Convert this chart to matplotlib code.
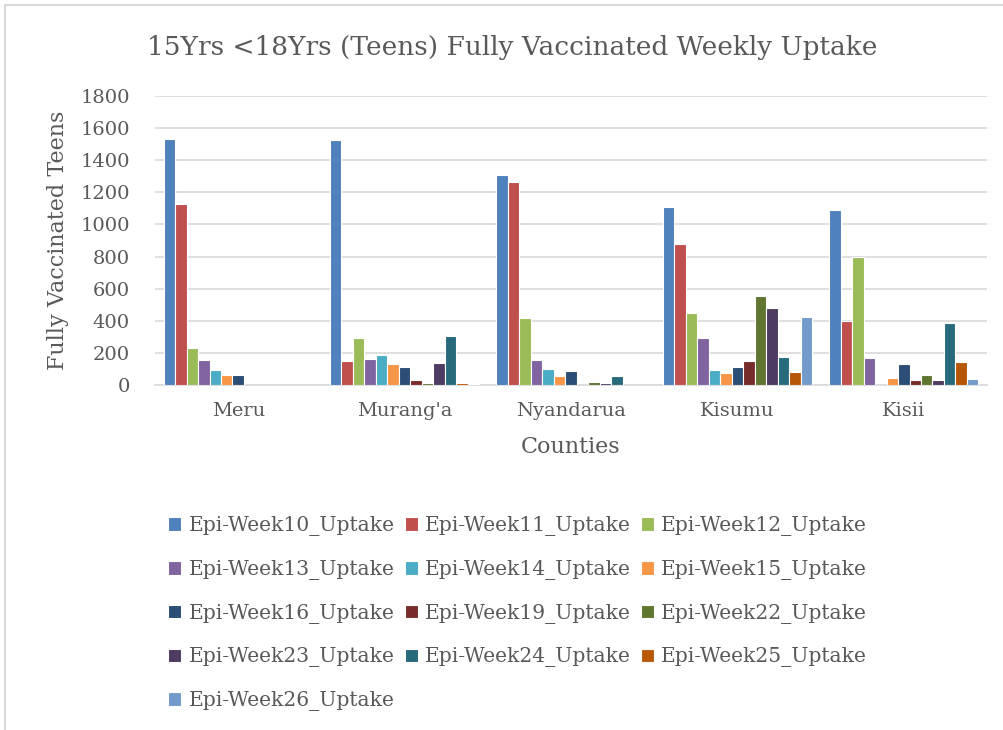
import matplotlib
matplotlib.use("Agg")
import matplotlib.pyplot as plt
import numpy as np
from matplotlib.lines import Line2D

counties = ["Meru", "Murang'a", "Nyandarua", "Kisumu", "Kisii"]
series_names = ["Epi-Week10_Uptake", "Epi-Week11_Uptake", "Epi-Week12_Uptake",
                "Epi-Week13_Uptake", "Epi-Week14_Uptake", "Epi-Week15_Uptake",
                "Epi-Week16_Uptake", "Epi-Week19_Uptake", "Epi-Week22_Uptake",
                "Epi-Week23_Uptake", "Epi-Week24_Uptake", "Epi-Week25_Uptake",
                "Epi-Week26_Uptake"]
week10 = [1534, 1523, 1311, 1106, 1091]
week11 = [1128, 150, 1266, 881, 399]
week12 = [229, 291, 416, 447, 798]
week13 = [154, 164, 154, 291, 166]
week14 = [92, 189, 102, 91, 0]
week15 = [62, 133, 54, 73, 44]
week16 = [65, 110, 89, 114, 131]
week19 = [3, 29, 3, 148, 31]
week22 = [0, 10, 17, 553, 60]
week23 = [0, 135, 10, 480, 29]
week24 = [0, 308, 56, 173, 385]
week25 = [0, 10, 0, 81, 141]
week26 = [3, 8, 0, 426, 37]
series_values = [week10, week11, week12, week13, week14, week15, week16,
                 week19, week22, week23, week24, week25, week26]
yticks = [0, 200, 400, 600, 800, 1000, 1200, 1400, 1600, 1800]

colors = ["#4F81BD", "#C0504D", "#9BBB59", "#8064A2", "#4BACC6", "#F79646",
          "#2C4D75", "#772C2A", "#5F7530", "#4D3B62", "#276A7C", "#B65708",
          "#729ACA"]

text_color = "#595959"
serif = ["DejaVu Serif"]

fig = plt.figure(figsize=(10.04, 7.30), dpi=100)
ax = fig.add_axes([155/1004, 1-385/730, 832/1004, 289/730])

n = len(series_values)
w = 1/14.5
x = np.arange(len(counties))
handles = []
for i, (name, vals) in enumerate(zip(series_names, series_values)):
    b = ax.bar(x + (i - (n-1)/2)*w, vals, width=w, color=colors[i],
               edgecolor="white", linewidth=0.8, label=name, zorder=3)
    handles.append(b)

ax.set_xlim(-0.5, len(counties)-0.5)
ax.set_ylim(0, 1800)
ax.set_yticks(yticks)
ax.set_yticklabels([str(t) for t in yticks], fontfamily=serif, fontsize=14, color=text_color)
ax.set_xticks(x)
ax.set_xticklabels(counties, fontfamily=serif, fontsize=14, color=text_color)
ax.tick_params(axis="y", length=0, pad=18)
ax.tick_params(axis="x", length=0, pad=12)
ax.grid(axis="y", color="#D9D9D9", linewidth=1.2, zorder=0)
for s in ["top", "right", "left"]:
    ax.spines[s].set_visible(False)
ax.spines["bottom"].set_color("#D9D9D9")
ax.spines["bottom"].set_linewidth(1.2)

ax.set_ylabel("Fully Vaccinated Teens", fontfamily=serif, fontsize=16, color=text_color, labelpad=8)
ax.set_xlabel("Counties", fontfamily=serif, fontsize=16, color=text_color, labelpad=12)

fig.text(512/1004, 1-47/730, "15Yrs <18Yrs (Teens) Fully Vaccinated Weekly Uptake",
         fontfamily=serif, fontsize=19, color=text_color, ha="center", va="center")

# legend laid out row by row (matplotlib fills column-wise)
ncol = 3
nrows = int(np.ceil(n / ncol))
order = [r*ncol + c for c in range(ncol) for r in range(nrows) if r*ncol + c < n]
leg = fig.legend([handles[i] for i in order], [series_names[i] for i in order],
                 loc="upper left", bbox_to_anchor=(150/1004, 1-498/730), ncol=ncol,
                 frameon=False, handlelength=0.65, handleheight=0.65, handletextpad=0.35,
                 columnspacing=0.5, labelspacing=1.17,
                 prop={"family": serif, "size": 14.6})
for t in leg.get_texts():
    t.set_color(text_color)

# chart frame (left and top edges visible)
fig.add_artist(Line2D([5/1004, 5/1004], [0, 1-5/730], color="#D9D9D9", linewidth=1.5,
                      transform=fig.transFigure))
fig.add_artist(Line2D([5/1004, 1003/1004], [1-5/730, 1-5/730], color="#D9D9D9", linewidth=1.5,
                      transform=fig.transFigure))

fig.savefig("out.png", dpi=100, facecolor="white")
